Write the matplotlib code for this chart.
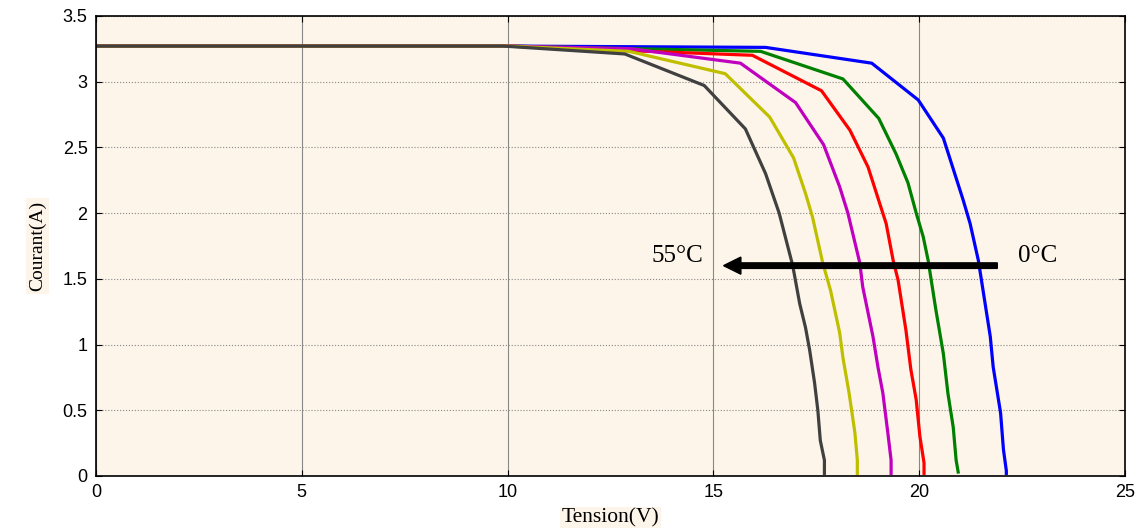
import matplotlib
matplotlib.use('Agg')
from matplotlib import pyplot as plt

# I-V curves of a PV panel for several temperatures (0°C ... 55°C)
V_0 = [0, 10, 16.27, 18.85, 19.98, 20.59, 21.07, 21.24, 21.44, 21.73, 21.8, 21.98, 22.05, 22.12, 22.12]
I_0 = [3.27, 3.27, 3.26, 3.14, 2.86, 2.57, 2.1, 1.92, 1.64, 1.06, 0.83, 0.48, 0.2, 0.04, 0.02]

V_11 = [0, 10, 16.15, 18.15, 19.02, 19.44, 19.73, 19.93, 20.1, 20.22, 20.41, 20.59, 20.7, 20.83, 20.9, 20.95]
I_11 = [3.27, 3.27, 3.23, 3.02, 2.72, 2.45, 2.23, 2.0, 1.82, 1.64, 1.26, 0.93, 0.63, 0.37, 0.12, 0.03]

V_22 = [0, 10, 15.95, 17.63, 18.32, 18.76, 19.2, 19.37, 19.49, 19.68, 19.8, 19.93, 20.02, 20.12, 20.12]
I_22 = [3.27, 3.27, 3.2, 2.93, 2.63, 2.35, 1.92, 1.64, 1.49, 1.11, 0.81, 0.58, 0.3, 0.1, 0.02]

V_33 = [0, 10, 13.0, 15.66, 17.0, 17.68, 18.07, 18.27, 18.56, 18.63, 18.88, 19.0, 19.12, 19.24, 19.32, 19.32]
I_33 = [3.27, 3.27, 3.25, 3.14, 2.84, 2.52, 2.2, 2.0, 1.62, 1.44, 1.06, 0.83, 0.63, 0.33, 0.12, 0.02]

V_44 = [0, 10, 12.95, 15.29, 16.37, 16.95, 17.24, 17.41, 17.66, 17.85, 18.07, 18.15, 18.3, 18.44, 18.5, 18.5]
I_44 = [3.27, 3.27, 3.23, 3.06, 2.73, 2.42, 2.15, 1.97, 1.62, 1.41, 1.09, 0.9, 0.63, 0.33, 0.12, 0.02]

V_55 = [0, 9.9, 12.85, 14.78, 15.78, 16.27, 16.6, 16.93, 17.1, 17.24, 17.34, 17.46, 17.54, 17.6, 17.7, 17.7]
I_55 = [3.27, 3.27, 3.21, 2.97, 2.64, 2.3, 2.0, 1.6, 1.31, 1.13, 0.96, 0.71, 0.5, 0.27, 0.12, 0.02]

curves = [(V_0, I_0, 'b'), (V_11, I_11, 'g'), (V_22, I_22, 'r'),
          (V_33, I_33, '#bf00bf'), (V_44, I_44, '#bfbf00'), (V_55, I_55, '#404040')]

bg = '#fdf5ea'

fig = plt.figure(figsize=(11.42, 5.28), dpi=100)
ax = fig.add_axes([0.084, 0.0985, 0.901, 0.8715])
ax.set_facecolor(bg)

for v, i, c in curves:
    ax.plot(v, i, color=c, lw=2.3)

# arrow 0°C -> 55°C
ax.arrow(21.9, 1.6, -6.65, 0, width=0.042, head_width=0.13, head_length=0.42,
         length_includes_head=True, color='black', zorder=5)
ax.text(22.4, 1.67, '0°C', fontsize=18, family='Liberation Serif', va='center', ha='left')
ax.text(14.75, 1.67, '55°C', fontsize=18, family='Liberation Serif', va='center', ha='right')

ax.set_xlim(0, 25)
ax.set_ylim(0, 3.5)
ax.set_xticks([0, 5, 10, 15, 20, 25])
ax.set_yticks([0, 0.5, 1, 1.5, 2, 2.5, 3, 3.5])
ax.set_yticklabels(['0', '0.5', '1', '1.5', '2', '2.5', '3', '3.5'])
ax.tick_params(direction='in', top=True, right=True, length=4, labelsize=13, pad=6)
for lab in ax.get_xticklabels() + ax.get_yticklabels():
    lab.set_family('Liberation Sans')

ax.grid(axis='x', color='#888888', lw=0.8, ls='-')
ax.grid(axis='y', color='#888888', lw=0.8, ls=':')
for s in ax.spines.values():
    s.set_linewidth(1.2)

ax.set_xlabel('Tension(V)', family='Liberation Serif', fontsize=15.5, labelpad=5,
              bbox=dict(facecolor=bg, edgecolor='none', pad=1))
ax.set_ylabel('Courant(A)', family='Liberation Serif', fontsize=14, labelpad=12,
              bbox=dict(facecolor=bg, edgecolor='none', pad=2))

fig.savefig('out.png', dpi=100)
